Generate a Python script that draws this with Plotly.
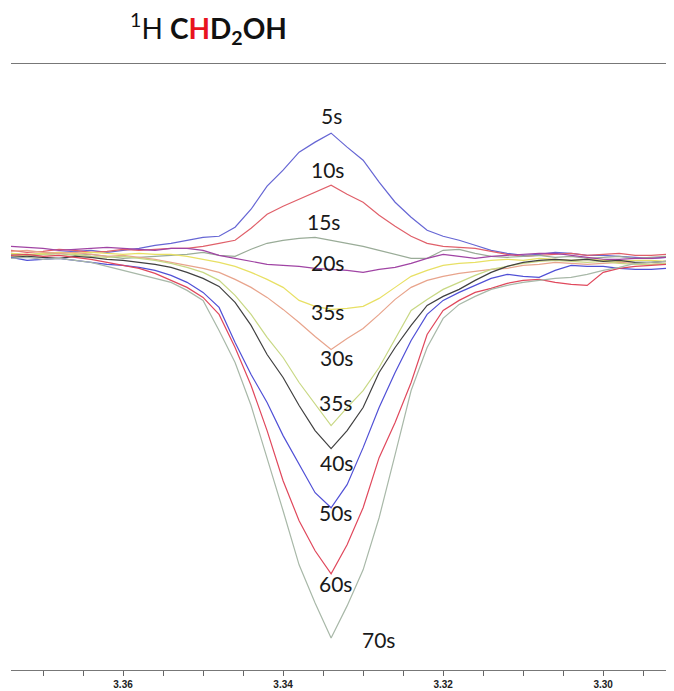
import plotly.graph_objects as go

# chemical shift grid (ppm)
ppm = [3.376, 3.374, 3.372, 3.370, 3.368, 3.366, 3.364, 3.362, 3.360, 3.358, 3.356,
       3.354, 3.352, 3.350, 3.348, 3.346, 3.344, 3.342, 3.340, 3.338, 3.336, 3.334,
       3.332, 3.330, 3.328, 3.326, 3.324, 3.322, 3.320, 3.318, 3.316, 3.314, 3.312,
       3.310, 3.308, 3.306, 3.304, 3.302, 3.300, 3.298, 3.296, 3.294, 3.292, 3.290]

# intensities (arbitrary units)
s5 = [-2, -1, -3, -1, 0, 1, 2, 0, 2, 4, 7, 9, 12, 15, 16, 25, 43, 66, 82, 100,
      110, 119, 105, 92, 70, 50, 35, 22, 16, 12, 7, 2, -1, -3, -2, 0, -1, -3, -3, -4, -5, -6, -5, -6]
s10 = [1, 2, 0, 1, 3, 2, 0, 1, 3, 2, 3, 4, 4, 6, 9, 12, 24, 38, 46, 53,
       60, 67, 58, 50, 37, 26, 16, 9, 6, 5, 4, 1, -2, -4, -3, -2, -1, -3, -2, -1, -3, -3, -2, -3]
s15 = [-1, -2, -4, -2, -1, -3, -2, -4, -6, -5, -4, -3, -2, 0, -3, -4, 3, 9, 12, 14,
       15, 12, 9, 6, 2, -2, -6, -6, 2, 3, -1, -4, -5, -4, -3, -5, -4, -6, -5, -4, -6, -5, -4, -5]
s20 = [7, 6, 5, 4, 2, 3, 4, 5, 4, 3, 2, 4, 4, 2, -3, -6, -9, -12, -13, -14,
       -16, -17, -18, -20, -17, -15, -11, -6, -2, -4, -6, -4, -3, -2, -1, -1, -3, -5, -7, -7, -6, -6, -5, -6]
s35a = [0, -1, -2, -1, 0, -1, 0, -1, -2, -1, -2, -2, -4, -7, -10, -14, -20, -27, -35, -48,
        -54, -57, -56, -54, -46, -35, -24, -18, -13, -11, -10, -8, -7, -8, -6, -7, -8, -7, -8, -9, -8, -8, -9, -8]
s30 = [0, 1, 2, 0, -1, 0, -2, -4, -3, -5, -7, -10, -13, -16, -20, -27, -35, -45, -57, -70,
       -84, -97, -86, -76, -62, -47, -35, -28, -24, -21, -19, -17, -16, -13, -12, -10, -11, -12, -11, -10, -11, -12, -11, -12]
s35 = [-2, -4, -3, -2, -3, -2, -4, -5, -4, -6, -8, -11, -15, -20, -28, -43, -62, -85, -105, -130,
       -152, -173, -155, -138, -115, -87, -58, -47, -37, -30, -23, -17, -14, -11, -9, -8, -9, -10, -9, -11, -12, -12, -11, -12]
s40 = [-6, -5, -4, -5, -6, -4, -5, -7, -8, -10, -12, -15, -20, -26, -34, -50, -73, -102, -125, -153,
       -178, -196, -178, -155, -120, -95, -73, -53, -44, -37, -28, -20, -14, -10, -8, -7, -8, -7, -9, -8, -10, -10, -9, -10]
s50 = [-7, -5, -8, -7, -6, -8, -10, -12, -13, -15, -18, -23, -30, -40, -55, -90, -122, -150, -183, -212,
       -240, -255, -232, -195, -155, -120, -88, -62, -48, -40, -33, -26, -22, -24, -25, -18, -13, -14, -14, -16, -17, -17, -16, -17]
s60 = [-1, -3, -2, -4, -3, -5, -7, -10, -13, -16, -21, -28, -35, -45, -62, -95, -133, -178, -228, -268,
       -298, -321, -292, -255, -205, -170, -130, -82, -58, -48, -40, -36, -31, -28, -27, -30, -32, -33, -20, -16, -14, -13, -12, -13]
s70 = [-4, -6, -5, -7, -6, -8, -10, -14, -18, -22, -26, -30, -38, -48, -78, -110, -153, -205, -258, -312,
       -350, -385, -353, -317, -265, -202, -138, -95, -66, -52, -44, -37, -33, -30, -28, -26, -25, -22, -18, -15, -11, -10, -9, -10]

labels = ["5s", "10s", "15s", "20s", "35s", "30s", "35s", "40s", "50s", "60s", "70s"]
spectra = [s5, s10, s15, s20, s35a, s30, s35, s40, s50, s60, s70]
colors = ["#6666d4", "#e0606a", "#9aac98", "#a044a4", "#e8e064", "#e8a48c",
          "#c8d884", "#404040", "#5050d6", "#e0485c", "#a8b8a8"]

tick_vals = [3.375, 3.370, 3.365, 3.360, 3.355, 3.350, 3.345, 3.340, 3.335, 3.330,
             3.325, 3.320, 3.315, 3.310, 3.305, 3.300, 3.295]
tick_text = ["", "", "", "<b>3.36</b>", "", "", "", "<b>3.34</b>", "", "",
             "", "<b>3.32</b>", "", "", "", "<b>3.30</b>", ""]

fig = go.Figure()
for y, c in zip(spectra, colors):
    fig.add_trace(go.Scatter(x=ppm, y=y, mode="lines", line=dict(color=c, width=1.2),
                             hoverinfo="skip"))

# label positions (ppm, intensity)
label_pos = [(3.3340, 137), (3.3345, 83), (3.3349, 31), (3.3345, -10), (3.3345, -59),
             (3.3333, -105), (3.3334, -150), (3.3333, -210), (3.3334, -260),
             (3.3334, -331), (3.3281, -387)]
for t, (lx, ly) in zip(labels, label_pos):
    fig.add_annotation(x=lx, y=ly, text=t, showarrow=False,
                       font=dict(family="Lato, Open Sans, sans-serif", size=21, color="#1a1a1a"))

fig.add_annotation(xref="paper", yref="paper", x=0.175, y=1.058, xanchor="left", yanchor="middle",
                   text="<sup>1</sup>H <b>C<span style='color:#e8141e'>H</span>D<sub>2</sub>OH</b>",
                   showarrow=False, font=dict(family="Lato, Open Sans, sans-serif", size=28, color="#111"))

fig.update_layout(width=674, height=691, margin=dict(l=3, r=2, t=56, b=29),
                  plot_bgcolor="white", paper_bgcolor="white", showlegend=False)
fig.update_xaxes(range=[3.374, 3.2904], tickvals=tick_vals, ticktext=tick_text,
                 ticks="outside", ticklen=5, tickcolor="#666", showline=True, linecolor="#777",
                 linewidth=1.2, mirror=True, showgrid=False, zeroline=False,
                 tickfont=dict(family="Arial, Liberation Sans", size=10, color="#222"))
fig.update_yaxes(range=[-417, 188], visible=False)

fig.write_html("out.html")
